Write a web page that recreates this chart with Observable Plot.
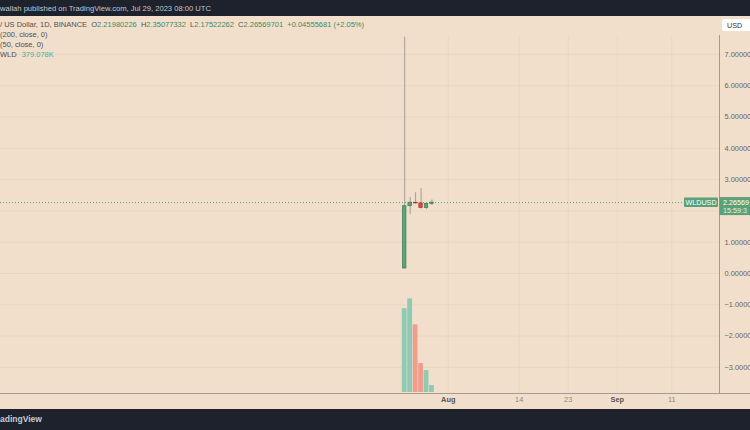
<!DOCTYPE html>
<html><head><meta charset="utf-8">
<script src="https://cdn.jsdelivr.net/npm/d3@7"></script>
<script src="https://cdn.jsdelivr.net/npm/@observablehq/plot@0.6"></script>
<style>
html,body{margin:0;padding:0;background:#f1dfcc;}
#wrap{position:relative;width:750px;height:430px;overflow:hidden;font-family:"Liberation Sans",Arial,sans-serif;background:#f1dfcc;}
#top{position:absolute;left:0;top:0;width:750px;height:16px;background:#1e222d;color:#c3c6ce;font-size:7.6px;line-height:17px;white-space:nowrap;}
#bottom{position:absolute;left:0;top:409px;width:750px;height:21px;background:#1e222d;color:#c8cbd2;font-size:8.5px;font-weight:bold;line-height:21px;white-space:nowrap;}
#chart,#vol{position:absolute;left:0;top:16px;}
#legend{position:absolute;left:0;top:20px;font-size:7.5px;color:#505050;}
#legend div{height:10px;line-height:10px;white-space:pre;}
.g{color:#3f8a5f}
.t{color:#3fb39b;margin-left:5px}
</style></head>
<body>
<div id="wrap">
  <div id="chart"></div>
  <div id="vol"></div>
  <div id="top">wallah published on TradingView.com, Jul 29, 2023 08:00 UTC</div>
  <div id="legend"></div>
  <div id="bottom">adingView</div>
</div>
<script>
// ---- data ----
const dates   = ["2023-07-24","2023-07-25","2023-07-26","2023-07-27","2023-07-28","2023-07-29"];
const opens   = [0.16, 2.15, 2.26, 2.24, 2.09, 2.21980226];
const highs   = [7.55, 2.43, 2.58, 2.71, 2.24, 2.35077332];
const lows    = [0.15, 1.88, 2.21, 2.06, 2.05, 2.17522262];
const closes  = [2.15, 2.26, 2.24, 2.09, 2.2201402, 2.26569701];
const volumes = [4550000, 5080000, 3670000, 1570000, 1190000, 379078];
const yTicks = [-3,-2,-1,0,1,2,3,4,5,6,7];
const monthTicks = ["2023-08-01","2023-09-01"];
const monthLabels = ["Aug","Sep"];
const dayTicks = ["2023-08-14","2023-08-23","2023-09-11"];
const dayLabels = ["14","23","11"];
const symbol = "WLDUSD";
const volName = "WLD";
const legendLines = ["(200, close, 0)", "(50, close, 0)"];

const noon = s => new Date(s + "T12:00:00Z");
const candles = dates.map((d,i)=>({date:noon(d), open:opens[i], high:highs[i], low:lows[i], close:closes[i], volume:volumes[i]}));
const last = candles[candles.length-1], prev = candles[candles.length-2];
const xDomain = [new Date("2023-05-11T08:00:00Z"), new Date("2023-09-20T06:15:00Z")];
const xRange = [0, 719];
const up = "#5aa57a", upStroke="#3b7a57", down = "#d54b40", downStroke="#a5382f";
const halfDay = d => [d3.utcHour.offset(d.date,-12), d3.utcHour.offset(d.date,12)];
const mMap = new Map(monthTicks.map((d,i)=>[+noon(d), monthLabels[i]]));
const dMap = new Map(dayTicks.map((d,i)=>[+noon(d), dayLabels[i]]));
const grid = "#e9d6c2";
const axisC = "#a39b93";
// the tick label hidden under the last-price label is not drawn
const axisTicks = yTicks.filter(t => Math.abs(t - last.close) > 0.5);

const price = Plot.plot({
  width:750, height:393, marginLeft:0, marginRight:31, marginTop:19, marginBottom:16,
  style:{background:"transparent", fontFamily:"Liberation Sans, Arial, sans-serif", fontSize:"7.4px", overflow:"visible"},
  x:{type:"utc", domain:xDomain, range:xRange},
  y:{domain:[0,7], range:[257, 257-7*31.3]},
  marks:[
    Plot.gridY(yTicks, {stroke:grid, strokeOpacity:1}),
    Plot.gridX([...monthTicks,...dayTicks].map(noon), {stroke:grid, strokeOpacity:1}),
    Plot.axisY(axisTicks, {anchor:"right", tickSize:0, tickPadding:5, tickFormat:d3.format(".5f"), fill:"#666"}),
    Plot.axisX(monthTicks.map(noon), {anchor:"bottom", tickSize:0, tickPadding:3, tickFormat:d=>mMap.get(+d), fill:"#555", fontWeight:"bold", label:null}),
    Plot.axisX(dayTicks.map(noon), {anchor:"bottom", tickSize:0, tickPadding:3, tickFormat:d=>dMap.get(+d), fill:"#8a8580", label:null}),
    Plot.ruleY([last.close], {stroke:"#5aa078", strokeDasharray:"1,2"}),
    Plot.ruleX(candles, {x:"date", y1:"low", y2:"high", stroke:"#a59c92"}),
    Plot.rect(candles, {x1:d=>halfDay(d)[0], x2:d=>halfDay(d)[1], y1:"open", y2:"close", insetLeft:1, insetRight:1,
      fill:d=>d.close>=d.open?up:down, stroke:d=>d.close>=d.open?upStroke:downStroke, strokeWidth:0.7}),
    Plot.frame({anchor:"right", stroke:axisC})
  ]
});
document.getElementById("chart").append(price);

const vol = Plot.plot({
  width:750, height:393, margin:0,
  style:{background:"transparent"},
  x:{type:"utc", domain:xDomain, range:xRange, axis:null},
  y:{domain:[0,5100000], range:[376, 282], axis:null},
  marks:[
    Plot.rectY(candles, {x1:d=>halfDay(d)[0], x2:d=>halfDay(d)[1], y:"volume", insetLeft:0.3, insetRight:0.3,
      fill:d=>d.close>=d.open?"#8fcab5":"#f09d8d"})
  ]
});
document.getElementById("vol").append(vol);

// decorations: bottom axis line, price labels, currency box
const svg = d3.select(price);
svg.append("line").attr("x1",0).attr("x2",750).attr("y1",377.5).attr("y2",377.5).attr("stroke",axisC);
const py = price.scale("y").apply(last.close);
const g = svg.append("g").attr("font-family","Liberation Sans, Arial, sans-serif").attr("font-size","7.2px").attr("text-anchor","start");
g.append("rect").attr("x",684).attr("y",py-4.5).attr("width",34).attr("height",9.5).attr("fill","#5aa078").attr("rx",1);
g.append("text").attr("x",701).attr("y",py).attr("dy","0.35em").attr("text-anchor","middle").attr("fill","#fff").text(symbol);
g.append("rect").attr("x",719.5).attr("y",py-5).attr("width",31).attr("height",18).attr("fill","#5aa078");
g.append("text").attr("x",723).attr("y",py).attr("dy","0.35em").attr("fill","#fff").text((Math.floor(last.close*1e5)/1e5).toFixed(5));
g.append("text").attr("x",723).attr("y",py+8).attr("dy","0.35em").attr("fill","#e3f1e8").text("15:59:3");
g.append("rect").attr("x",722).attr("y",3).attr("width",32).attr("height",12).attr("rx",2).attr("fill","#fff");
g.append("text").attr("x",727).attr("y",9).attr("dy","0.35em").attr("fill","#333").text("USD");

// legend
const f8 = v => v.toFixed(8);
const chg = last.close - prev.close;
document.getElementById("legend").innerHTML =
  `<div>/ US Dollar, 1D, BINANCE  O<span class="g">${f8(last.open)}</span>  H<span class="g">${f8(last.high)}</span>  L<span class="g">${f8(last.low)}</span>  C<span class="g">${f8(last.close)}</span>  <span class="g">+${f8(chg)} (+${(chg/prev.close*100).toFixed(2)}%)</span></div>` +
  legendLines.map(s => `<div>${s}</div>`).join("") +
  `<div>${volName}<span class="t">${(last.volume/1000).toFixed(3)}K</span></div>`;
</script>
</body></html>
